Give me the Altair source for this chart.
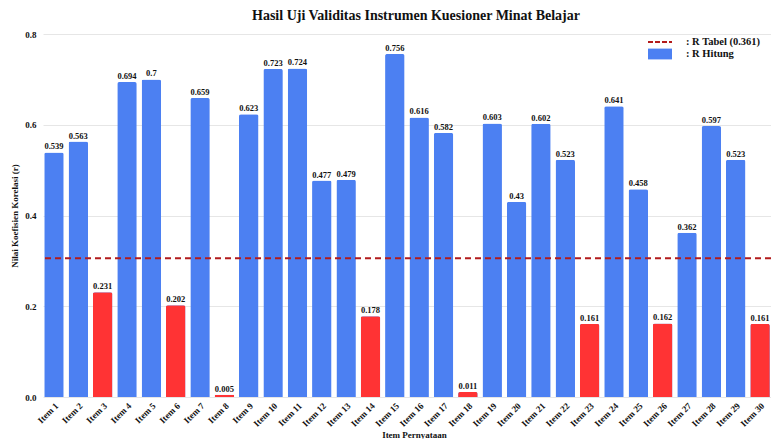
import altair as alt
import pandas as pd

items = [f"Item {i}" for i in range(1, 31)]
r_hitung = [0.539, 0.563, 0.231, 0.694, 0.7, 0.202, 0.659, 0.005, 0.623, 0.723,
            0.724, 0.477, 0.479, 0.178, 0.756, 0.616, 0.582, 0.011, 0.603, 0.43,
            0.602, 0.523, 0.161, 0.641, 0.458, 0.162, 0.362, 0.597, 0.523, 0.161]
r_tabel_label = 0.361
r_tabel_line = 0.306

FONT = "Liberation Serif"
BLUE = "#4c80f2"
RED = "#ff3334"
LINE = "#b31b1b"

df = pd.DataFrame({"item": items, "r": r_hitung})
df["series"] = ": R Hitung"
df["valid"] = df["r"] >= r_tabel_label
df["label"] = [str(v) for v in r_hitung]

line_df = pd.DataFrame({"y": [r_tabel_line], "series": [f": R Tabel ({r_tabel_label})"]})

x_scale = alt.Scale(paddingInner=0.2, paddingOuter=0.05)
x_enc = alt.X("item:N", sort=items, title="Item Pernyataan", scale=x_scale,
              axis=alt.Axis(labelAngle=-45, labelFont=FONT, labelFontWeight="bold",
                            labelFontSize=9, labelColor="#111", ticks=False, domain=False,
                            titleFont=FONT, titleFontWeight="bold", titleFontSize=9,
                            titleColor="#111", labelPadding=4, titlePadding=2,
                            titleX=371, titleAlign="center"))
y_scale = alt.Scale(domain=[0, 0.8])
y_axis = alt.Axis(values=[0, 0.2, 0.4, 0.6, 0.8], format=".1f", labelFont=FONT,
                  labelFontWeight="bold", labelFontSize=9, labelColor="#111",
                  ticks=False, domain=False, gridColor="#e6e6e6",
                  title="Nilai Koefisien Korelasi (r)", titleFont=FONT,
                  titleFontWeight="bold", titleFontSize=9, titleColor="#111",
                  labelPadding=7, titlePadding=5)

leg_common = dict(title=None, orient="none", legendX=604, labelFont=FONT,
                  labelFontWeight="bold", labelFontSize=10.5, labelColor="#111",
                  padding=0, labelOffset=13, symbolSize=576)

base = alt.Chart(df)

bars_blue = base.mark_bar(cornerRadiusTopLeft=2, cornerRadiusTopRight=2).encode(
    x=x_enc,
    y=alt.Y("r:Q", scale=y_scale, axis=y_axis),
    fill=alt.Fill("series:N", scale=alt.Scale(domain=[": R Hitung"], range=[BLUE]),
                  legend=alt.Legend(legendY=7, symbolType="M-1,-0.45H1V0.45H-1Z",
                                    symbolOpacity=1, **leg_common)),
)

bars_red = base.transform_filter("datum.valid == false").mark_bar(
    cornerRadiusTopLeft=2, cornerRadiusTopRight=2, color=RED).encode(
    x=alt.X("item:N", sort=items),
    y=alt.Y("r:Q", scale=y_scale),
)

labels = base.mark_text(dy=-6, font=FONT, fontWeight="bold", fontSize=8.5, color="#111").encode(
    x=alt.X("item:N", sort=items),
    y=alt.Y("r:Q", scale=y_scale),
    text=alt.Text("label:N"),
)

rule = alt.Chart(line_df).mark_rule(strokeDash=[6, 4], strokeWidth=2).encode(
    y=alt.Y("y:Q", scale=y_scale),
    stroke=alt.Stroke("series:N", scale=alt.Scale(range=[LINE]),
                      legend=alt.Legend(legendY=-5, symbolType="stroke",
                                        symbolStrokeWidth=2, symbolDash=[5, 2],
                                        **leg_common)),
)

chart = alt.layer(bars_blue, bars_red, rule, labels).resolve_scale(
    fill="independent", stroke="independent"
).properties(
    width=728, height=363,
    title=alt.Title("Hasil Uji Validitas Instrumen Kuesioner Minat Belajar",
                    font=FONT, fontSize=14, fontWeight="bold", color="#111",
                    anchor="middle", offset=6, dx=9),
    padding={"left": 35, "top": 26, "right": 0, "bottom": 42},
    autosize=alt.AutoSizeParams(type="none"),
).configure_view(stroke=None)

chart.save("out.html", embed_options={"renderer": "svg", "actions": False})
